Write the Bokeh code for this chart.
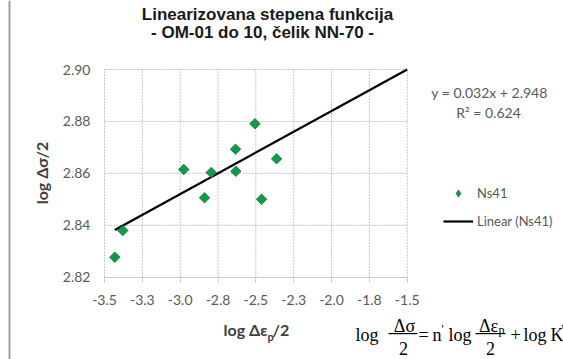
from bokeh.plotting import figure
from bokeh.models import (Range1d, FixedTicker, Label, Legend, LegendItem,
                          ColumnDataSource, BoxAnnotation)
from bokeh.embed import file_html
from bokeh.resources import INLINE
import numpy as np

# ---------------- data ----------------
x_vals = [-3.432, -3.379, -2.976, -2.839, -2.795, -2.634, -2.632, -2.506, -2.462, -2.363]
y_vals = [2.8277, 2.8380, 2.8615, 2.8506, 2.8603, 2.8693, 2.8608, 2.8791, 2.8500, 2.8656]
series_name = "Ns41"
trend_slope = 0.032
trend_intercept = 2.948
trend_r2 = 0.624
trend_x_end = -1.5
x_ticks = [-3.5, -3.25, -3.0, -2.75, -2.5, -2.25, -2.0, -1.75, -1.5]
x_tick_labels = ["-3.5", "-3.3", "-3.0", "-2.8", "-2.5", "-2.3", "-2.0", "-1.8", "-1.5"]
y_ticks = [2.82, 2.84, 2.86, 2.88, 2.90]
y_tick_labels = ["2.82", "2.84", "2.86", "2.88", "2.90"]
x_lim = (-3.5, -1.5)
y_lim = (2.82, 2.90)
title_lines = ["Linearizovana stepena funkcija", "- OM-01 do 10, čelik NN-70 -"]

# ---------------- layout (pixels) ----------------
W, H = 563, 359
PX_L, PX_R = 104.0, 406.7      # where x_lim falls on the canvas
PX_T, PX_B = 69.0, 276.7       # where y_lim falls on the canvas
sx_per = (PX_R - PX_L) / (x_lim[1] - x_lim[0])
sy_per = (PX_B - PX_T) / (y_lim[1] - y_lim[0])
xr = Range1d(x_lim[0] - PX_L / sx_per, x_lim[1] + (W - PX_R) / sx_per)
yr = Range1d(y_lim[0] - (H - PX_B) / sy_per, y_lim[1] + PX_T / sy_per)

p = figure(width=W, height=H, output_backend="svg", toolbar_location=None,
           x_range=xr, y_range=yr, min_border=0)
p.outline_line_color = None
p.background_fill_color = "white"
p.border_fill_color = "white"
p.xgrid.visible = False
p.ygrid.visible = False

TICK_FONT = "Lato"
GRAY = "#595959"
GRID = "#c4c4c4"

def sx(X):  # canvas px -> frame screen x
    return X
def sy(Y):  # canvas px (from top) -> frame screen y (from bottom)
    return H - Y

# chart-area border on the left
p.add_layout(BoxAnnotation(left=8, right=10, left_units="screen", right_units="screen",
                           fill_color="#a0a0a0", fill_alpha=1, line_color=None))

# grid lines (and dotted left edge) from tick arrays
p.segment(x0=x_ticks, y0=[y_lim[0]] * len(x_ticks),
          x1=x_ticks, y1=[y_lim[1]] * len(x_ticks),
          line_color=GRID, line_dash="2 1", line_width=1)
p.segment(x0=[x_lim[0]] * (len(y_ticks) - 1), y0=y_ticks[1:],
          x1=[x_lim[1]] * (len(y_ticks) - 1), y1=y_ticks[1:],
          line_color=GRID, line_dash="2 1", line_width=1)

# axes
xa, ya = p.xaxis[0], p.yaxis[0]
xa.fixed_location = y_lim[0]
ya.fixed_location = x_lim[0]
xa.bounds = x_lim
ya.bounds = y_lim
xa.ticker = FixedTicker(ticks=x_ticks)
xa.major_label_overrides = {t: l for t, l in zip(x_ticks, x_tick_labels)}
ya.ticker = FixedTicker(ticks=y_ticks)
ya.major_label_overrides = {t: l for t, l in zip(y_ticks, y_tick_labels)}
for ax in (xa, ya):
    ax.axis_line_color = "#cfcfcf"
    ax.major_tick_line_color = "#cfcfcf"
    ax.minor_tick_line_color = None
    ax.major_label_text_font = TICK_FONT
    ax.major_label_text_font_size = "14px"
    ax.major_label_text_color = GRAY
ya.axis_line_color = None
ya.major_tick_line_color = None
xa.major_tick_out = 5
xa.major_tick_in = 0
xa.major_label_standoff = 13
ya.major_tick_out = 0
ya.major_tick_in = 0
ya.major_label_standoff = 14

# y axis title
p.add_layout(Label(x=sx(41), y=sy(172.5), x_units="screen", y_units="screen",
                   text="log Δσ/2", angle=np.pi / 2, text_align="center",
                   text_baseline="middle", text_font=TICK_FONT,
                   text_font_style="bold", text_font_size="16px", text_color="#404040"))

# trend line
tx = np.array([min(x_vals), trend_x_end])
ty = trend_slope * tx + trend_intercept
r_line = p.line(tx, ty, line_color="black", line_width=2.2)

MK = dict(fill_color="#0a9e48", line_color="#2f5f3a", line_width=0.7)
src = ColumnDataSource(dict(x=x_vals, y=y_vals))
r_pts = p.scatter("x", "y", source=src, marker="square", angle=np.pi / 4, size=7.5, **MK)
r_key = p.scatter(x=[np.nan], y=[np.nan], marker="diamond", size=12, **MK)

legend = Legend(items=[LegendItem(label=series_name, renderers=[r_key]),
                       LegendItem(label="Linear (" + series_name + ")", renderers=[r_line])],
                location=(443, H - 230), orientation="vertical",
                background_fill_alpha=0, border_line_color=None,
                label_text_font=TICK_FONT, label_text_font_size="13px",
                label_text_color=GRAY, glyph_width=30, glyph_height=18,
                label_standoff=4, spacing=10, padding=0, margin=0,
                label_height=18)
p.add_layout(legend, "center")

# title
for (cx, cy, t) in [(267, 13.5, title_lines[0]), (262, 31.5, title_lines[1])]:
    p.add_layout(Label(x=sx(cx), y=sy(cy), x_units="screen", y_units="screen",
                       text=t, text_align="center", text_baseline="middle",
                       text_font="Liberation Sans", text_font_style="bold",
                       text_font_size="17px", text_color="#1a1a1a"))

# trendline equation
p.add_layout(Label(x=sx(489), y=sy(92), x_units="screen", y_units="screen",
                   text="y = %.3fx + %.3f" % (trend_slope, trend_intercept),
                   text_align="center", text_baseline="middle",
                   text_font=TICK_FONT, text_font_size="14px", text_color=GRAY))
p.add_layout(Label(x=sx(488), y=sy(112), x_units="screen", y_units="screen",
                   text="R² = %.3f" % trend_r2,
                   text_align="center", text_baseline="middle",
                   text_font=TICK_FONT, text_font_size="14px", text_color=GRAY))

# x axis label with subscript
xl = dict(x_units="screen", y_units="screen", text_baseline="middle",
          text_font=TICK_FONT, text_font_style="bold", text_color="#404040")
p.add_layout(Label(x=sx(267), y=sy(329), text="log Δε", text_align="right",
                   text_font_size="16px", **xl))
p.add_layout(Label(x=sx(267), y=sy(336), text="p", text_align="left",
                   text_font_size="11px", **xl))
p.add_layout(Label(x=sx(272), y=sy(329), text="/2", text_align="left",
                   text_font_size="16px", **xl))

# formula at bottom right
SERIF = "Liberation Serif"
DY = -6
def ftext(X, Y, t, align="left", size="18px"):
    p.add_layout(Label(x=sx(X), y=sy(Y + DY), x_units="screen", y_units="screen", text=t,
                       text_align=align, text_baseline="alphabetic",
                       text_font=SERIF, text_font_size=size, text_color="black"))
ftext(355, 340, "log")
ftext(404, 331, "Δσ", align="center")
ftext(403, 354, "2", align="center")
ftext(418, 340, "=")
ftext(432, 340, "n")
ftext(441, 334, "'", size="12px")
ftext(448, 340, "log")
ftext(488, 331, "Δε", align="center")
ftext(498, 335, "p", size="12px")
ftext(490, 354, "2", align="center")
ftext(515, 340, "+", align="center")
ftext(523, 340, "log")
ftext(550, 340, "K")
ftext(561, 334, "'", size="12px")
for (a, b) in [(388, 417), (475, 505)]:
    p.add_layout(BoxAnnotation(left=sx(a), right=sx(b), top=sy(332.5), bottom=sy(333.7),
                               left_units="screen", right_units="screen",
                               top_units="screen", bottom_units="screen",
                               fill_color="black", fill_alpha=1, line_color=None))

open("out.html", "w").write(file_html(p, INLINE))
